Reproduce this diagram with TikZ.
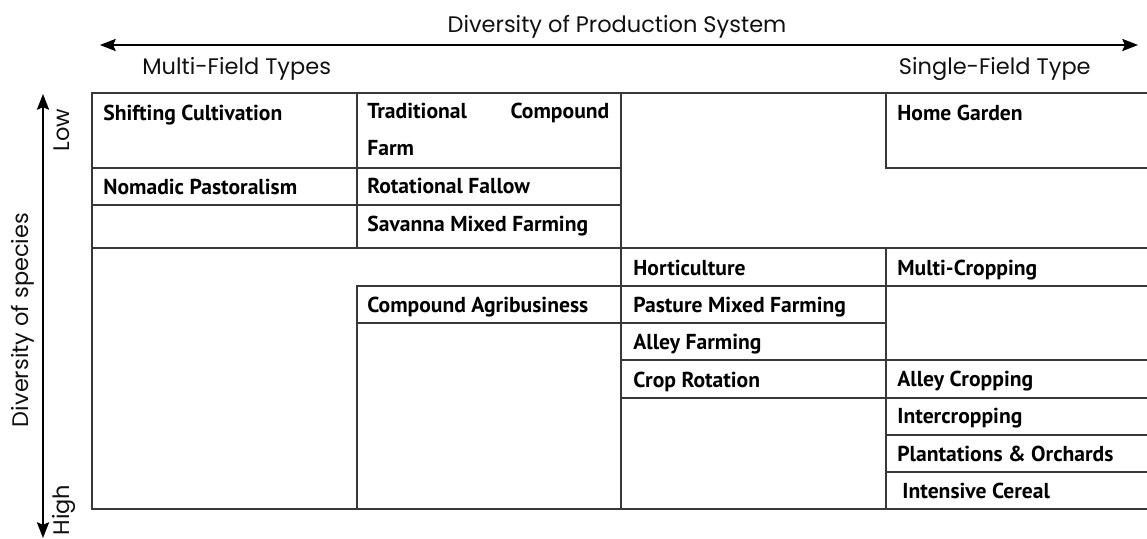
\documentclass[tikz,border=0pt]{standalone}
\usepackage{fontspec}
\setmainfont{Poppins}
\newfontfamily\cellfont{PT Sans}
\usetikzlibrary{arrows.meta}
\definecolor{rule}{HTML}{383838}
\definecolor{ink}{HTML}{111111}
\tikzset{
  grid/.style={draw=rule, line width=1.1pt, line cap=rect},
  axis/.style={draw=black, line width=0.6pt, {Stealth[length=9pt,width=7pt,inset=1.5pt]}-{Stealth[length=9pt,width=7pt,inset=1.5pt]}},
  axlab/.style={text=ink, font=\fontsize{12.8}{14}\selectfont, inner sep=0pt},
  cell/.style={text=black, font=\cellfont\bfseries\fontsize{12.3}{21}\selectfont, anchor=base west, inner sep=0pt},
}

\begin{document}
\begin{tikzpicture}[x=0.02cm, y=-0.02cm]
\useasboundingbox (0,0) rectangle (1147,538);
% axes
\coordinate (hl) at (100,45);
\coordinate (hr) at (1138,45);
\coordinate (vt) at (43,94);
\coordinate (vb) at (43,538);
\draw[axis] (hl) -- (hr);
\draw[axis] (vt) -- (vb);
\node[axlab, anchor=base] (prod) at (617,32) {Diversity of Production System};
\node[axlab, anchor=base west] (multi) at (142,74) {Multi-Field Types};
\node[axlab, anchor=base east] (single) at (1091,74) {Single-Field Type};
\node[axlab, anchor=base, rotate=90] (low) at (70,130) {Low};
\node[axlab, anchor=base, rotate=90] (high) at (70,510) {High};
\node[axlab, anchor=base, rotate=90] (species) at (29,320) {Diversity of species};
% table frame
\draw[grid] (1147,93) -- (92,93) -- (92,509) -- (1147,509);
\draw[grid] (357,93) -- (357,248) (357,286) -- (357,509);
\draw[grid] (621,93) -- (621,509);
\draw[grid] (886,93) -- (886,168) (886,248) -- (886,509);
\draw[grid] (92,168) -- (621,168) (886,168) -- (1147,168);
\draw[grid] (92,205) -- (621,205);
\draw[grid] (92,248) -- (1147,248);
\draw[grid] (357,286) -- (1147,286);
\draw[grid] (357,323) -- (886,323);
\draw[grid] (621,360) -- (1147,360);
\draw[grid] (621,398) -- (1147,398);
\draw[grid] (886,435) -- (1147,435);
\draw[grid] (886,472) -- (1147,472);
% column 1
\node[cell] (shift) at (103,120) {Shifting Cultivation};
\node[cell] (nomad) at (103,194) {Nomadic Pastoralism};
% column 2
\node[cell, anchor=north west, align=left] (trad) at (367,103) {\makebox[4.84cm][s]{Traditional Compound}\\Farm};
\node[cell] (fallow) at (367,193) {Rotational Fallow};
\node[cell] (savanna) at (367,231) {Savanna Mixed Farming};
\node[cell] (agri) at (367,312) {Compound Agribusiness};
% column 3
\node[cell] (horti) at (633,275) {Horticulture};
\node[cell] (pasture) at (633,312) {Pasture Mixed Farming};
\node[cell] (alleyf) at (633,349) {Alley Farming};
\node[cell] (croprot) at (633,387) {Crop Rotation};
% column 4
\node[cell] (home) at (897,120) {Home Garden};
\node[cell] (multic) at (897,275) {Multi-Cropping};
\node[cell] (alleyc) at (897,386) {Alley Cropping};
\node[cell] (inter) at (897,423) {Intercropping};
\node[cell] (plant) at (897,461) {Plantations \& Orchards};
\node[cell] (cereal) at (902,498) {Intensive Cereal};
\end{tikzpicture}
\end{document}
